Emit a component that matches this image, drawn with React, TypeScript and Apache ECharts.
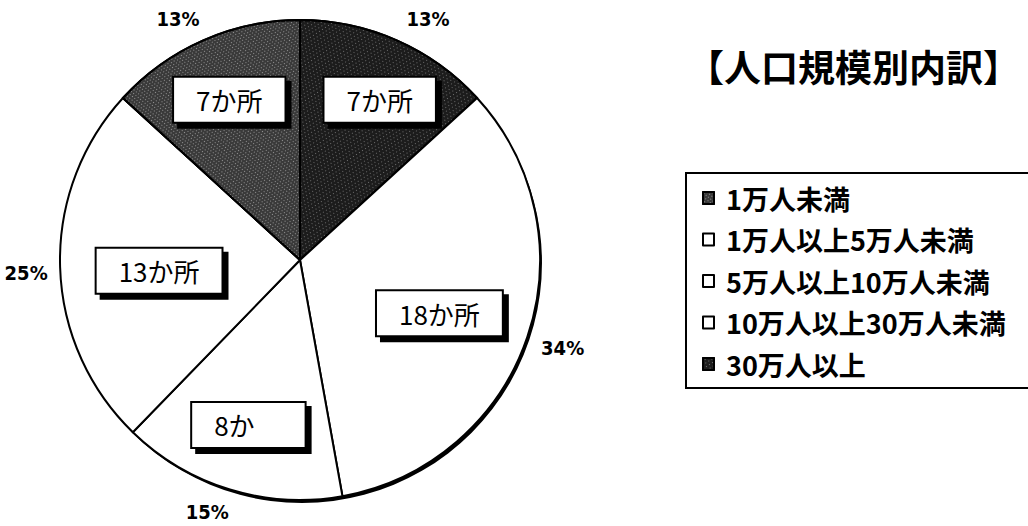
import React, { useEffect, useRef } from "react";
import * as echarts from "echarts";

// ---- data ----
const categories = [
  "30万人以上",
  "10万人以上30万人未満",
  "5万人以上10万人未満",
  "1万人以上5万人未満",
  "1万人未満",
];
const counts = [7, 18, 8, 13, 7];
const boxLabels = ["7か所", "18か所", "8か", "13か所", "7か所"];
const legendOrder = [
  "1万人未満",
  "1万人以上5万人未満",
  "5万人以上10万人未満",
  "10万人以上30万人未満",
  "30万人以上",
];
const titleText = "【人口規模別内訳】";

// ---- styles ----
const fills = ["#1c1c1c", "#ffffff", "#ffffff", "#ffffff", "#3a3a3a"];
const speckle = [
  { symbol: "rect", symbolSize: 1, color: "rgba(255,255,255,0.35)", dashArrayX: [[1, 3], [0, 2, 1, 1]], dashArrayY: [1, 2], rotation: 0.4 },
  null,
  null,
  null,
  { symbol: "rect", symbolSize: 1, color: "rgba(255,255,255,0.45)", dashArrayX: [[1, 2], [0, 1, 1, 1]], dashArrayY: [1, 2], rotation: 0.7 },
];
const boxShift = [[14, -11], [-15, 1], [-4, 9], [22, 6], [-5, -11]];
const pctShift = [[18, 9], [4, 1], [-13, -9], [-1, 5], [-12, 9]];
const boxPadding = [[7, 22], [7, 22], [7, 50, 7, 22], [7, 22], [7, 22]];

const CJK = "'Noto Sans CJK JP', 'Noto Sans CJK SC', sans-serif";
const NARROW = "'Liberation Sans Narrow', 'DejaVu Sans Condensed', 'Liberation Sans', sans-serif";

export default function App() {
  const ref = useRef<HTMLDivElement>(null);
  useEffect(() => {
    if (!ref.current) return;
    const chart = echarts.init(ref.current, null, { renderer: "svg" });
    const mainData = categories.map((name, i) => ({
      name,
      value: counts[i],
      itemStyle: {
        color: fills[i],
        borderColor: "#000",
        borderWidth: 2,
        ...(speckle[i] ? { decal: speckle[i] } : {}),
      },
    }));
    const ghost = (i: number) => ({
      name: categories[i],
      value: counts[i],
      itemStyle: { color: "rgba(0,0,0,0)", borderWidth: 0 },
    });
    chart.setOption({
      animation: false,
      backgroundColor: "#fff",
      title: {
        text: titleText,
        left: 687,
        top: 47,
        padding: 0,
        textStyle: { fontSize: 37, fontWeight: "bold", fontFamily: CJK, color: "#000" },
      },
      legend: {
        data: legendOrder,
        orient: "vertical",
        left: 686,
        top: 173,
        padding: [10, 80, 9, 16],
        borderColor: "#000",
        borderWidth: 2,
        itemGap: 11.5,
        itemWidth: 11,
        itemHeight: 12,
        icon: "rect",
        selectedMode: false,
        textStyle: {
          fontSize: 27,
          fontWeight: "bold",
          fontFamily: CJK,
          color: "#000",
          lineHeight: 30,
          padding: [0, 0, 0, 7],
        },
      },
      series: [
        {
          type: "pie",
          name: "mainPie",
          center: [300, 260],
          radius: 240,
          startAngle: 90,
          clockwise: true,
          silent: true,
          label: { show: false },
          labelLine: { show: false },
          data: mainData,
          z: 3,
        },
        {
          type: "pie",
          name: "rimShadow",
          center: [302, 263],
          radius: 240,
          silent: true,
          label: { show: false },
          labelLine: { show: false },
          itemStyle: { color: "#000", borderWidth: 0 },
          data: [{ name: "rim", value: 1 }],
          z: 1,
        },
        {
          type: "pie",
          name: "boxes",
          center: [300, 260],
          radius: [0, 320],
          startAngle: 90,
          clockwise: true,
          silent: true,
          avoidLabelOverlap: false,
          labelLine: { show: false },
          data: categories.map((_, i) => ({
            ...ghost(i),
            label: { padding: boxPadding[i] },
          })),
          label: {
            show: true,
            position: "inside",
            formatter: (p: any) => boxLabels[p.dataIndex],
            fontSize: 26,
            lineHeight: 30,
            fontFamily: CJK,
            color: "#000",
            backgroundColor: "#fff",
            borderColor: "#000",
            borderWidth: 2,
            shadowColor: "#000",
            shadowBlur: 0,
            shadowOffsetX: 5,
            shadowOffsetY: 5,
          },
          labelLayout: (p: any) => ({ dx: boxShift[p.dataIndex][0], dy: boxShift[p.dataIndex][1] }),
          z: 5,
        },
        {
          type: "pie",
          name: "percents",
          center: [300, 260],
          radius: [250, 290],
          startAngle: 90,
          clockwise: true,
          silent: true,
          avoidLabelOverlap: false,
          percentPrecision: 0,
          labelLine: { show: false },
          data: categories.map((_, i) => ghost(i)),
          label: {
            show: true,
            position: "inside",
            formatter: "{d}%",
            fontSize: 20,
            fontWeight: "bold",
            fontFamily: NARROW,
            color: "#000",
          },
          labelLayout: (p: any) => ({ dx: pctShift[p.dataIndex][0], dy: pctShift[p.dataIndex][1] }),
          z: 5,
        },
      ],
    });
    return () => chart.dispose();
  }, []);
  return (
    <div
      ref={ref}
      style={{ position: "fixed", left: 0, top: 0, width: 1028, height: 526, background: "#fff" }}
    />
  );
}
